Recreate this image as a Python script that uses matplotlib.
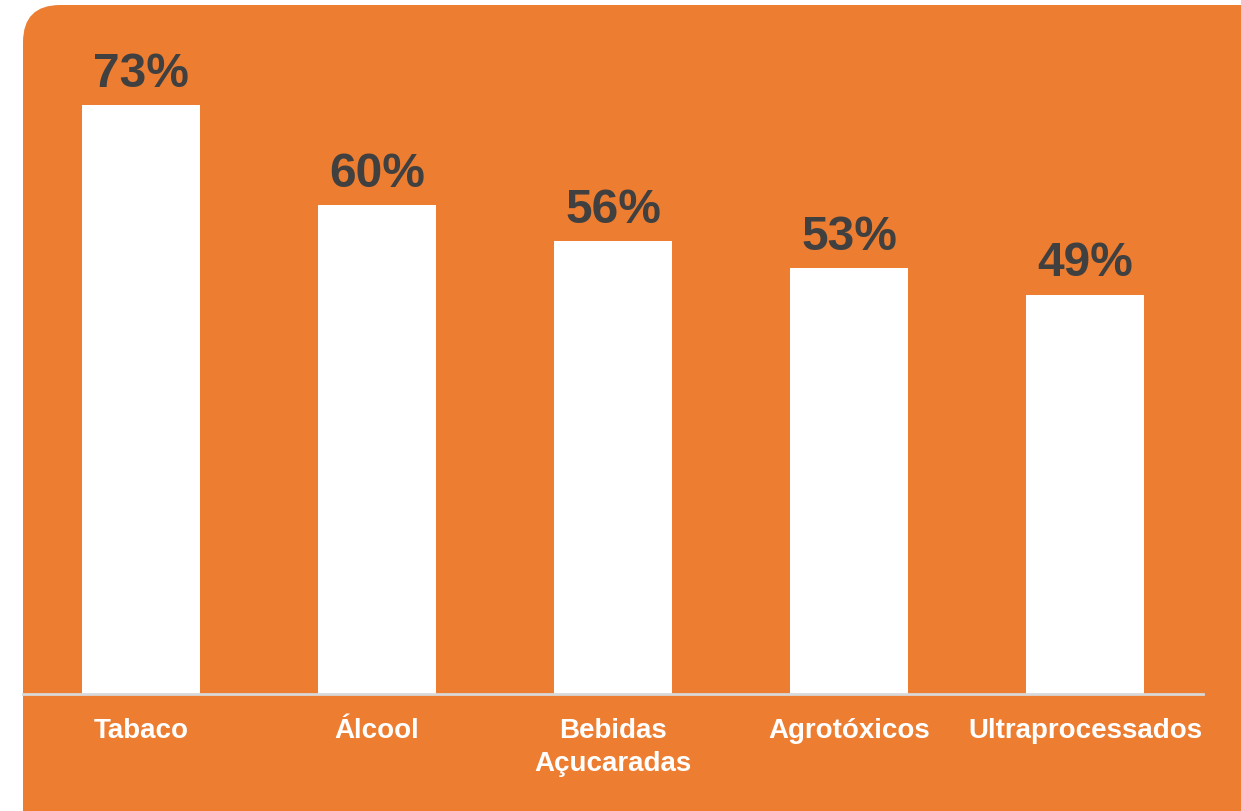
import matplotlib
matplotlib.use("Agg")
import matplotlib.pyplot as plt
from matplotlib.patches import FancyBboxPatch
import matplotlib.transforms as mtransforms

categories = ["Tabaco", "Álcool", "Bebidas\nAçucaradas", "Agrotóxicos", "Ultraprocessados"]
values = [73, 60.6, 56.1, 52.8, 49.5]
value_labels = ["73%", "60%", "56%", "53%", "49%"]

W, H = 1241, 811
fig = plt.figure(figsize=(W / 100, H / 100), dpi=100)
fig.patch.set_facecolor("white")

orange = "#ED7D31"
# rounded orange panel
bg = FancyBboxPatch((23 / W, -40 / H), (W + 40 - 23) / W, (H + 40 - 5) / H,
                    boxstyle="round,pad=0,rounding_size=0.03",
                    transform=fig.transFigure, facecolor=orange, edgecolor="none",
                    mutation_aspect=W / H, zorder=-10)
fig.patches.append(bg)

ax = fig.add_axes([23 / W, (H - 694) / H, (1203 - 23) / W, (694 - 5) / H])
ax.set_zorder(5)
ax.set_facecolor("none")
x = list(range(len(categories)))
ax.bar(x, values, width=0.5, color="white", zorder=2)
ax.set_xlim(-0.5, len(categories) - 0.5)
ax.set_ylim(0, 73 * 689 / 589)

for s in ["top", "right", "left"]:
    ax.spines[s].set_visible(False)
ax.spines["bottom"].set_color("#D9D9D9")
ax.spines["bottom"].set_linewidth(2)
ax.set_yticks([])
ax.set_xticks([])

for xi, v, lab in zip(x, values, value_labels):
    ax.annotate(lab, (xi, v), xytext=(0, 6), textcoords="offset points",
                ha="center", va="bottom", fontsize=34.5, fontweight="bold",
                color="#404040", family="Liberation Sans")

trans = mtransforms.blended_transform_factory(ax.transData, ax.transAxes)
for xi, cat in zip(x, categories):
    ax.annotate(cat, (xi, 0), xycoords=trans, xytext=(0, -17), textcoords="offset points",
                ha="center", va="top", fontsize=20, fontweight="bold",
                color="white", family="Liberation Sans", linespacing=1.35)

fig.savefig("out.png", dpi=100, facecolor=fig.get_facecolor())
